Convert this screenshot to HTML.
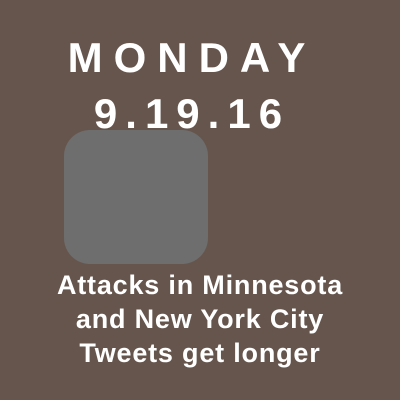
<!DOCTYPE html>
<html><head><meta charset="utf-8"><style>
html,body{margin:0;padding:0}
body{width:400px;height:400px;background:#66554d;position:relative;overflow:hidden;font-family:"Liberation Sans","DejaVu Sans",sans-serif;color:#fff}
.t{position:absolute;left:0;width:400px;text-align:center;font-weight:bold}
</style></head><body>
<div class="t" style="top:34px;font-size:42px;letter-spacing:11px;left:-8px">MONDAY</div>
<div class="t" style="top:90px;font-size:42px;letter-spacing:8px;left:-8px">9.19.16</div>
<div style="position:absolute;left:64px;top:130px;width:144px;height:134px;background:#6e6e6e;border-radius:26px"></div>
<div class="t" style="top:268px;font-size:27px;line-height:34px;letter-spacing:0.8px">Attacks in Minnesota<br>and New York City<br>Tweets get longer</div>
</body></html>
